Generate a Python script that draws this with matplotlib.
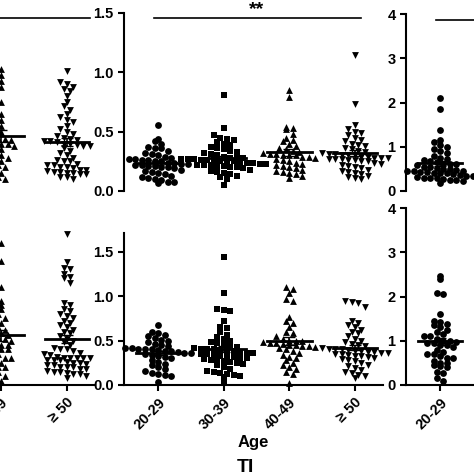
import numpy as np
import matplotlib.pyplot as plt

plt.rcParams['font.family'] = ['Liberation Sans', 'DejaVu Sans']
plt.rcParams['font.weight'] = 'bold'

ages = ['20-29', '30-39', '40-49', '\u2265 50']
markers = ['o', 's', '^', 'v']

# top row (panel 2 is fully visible)
top_left_40 = [1.03,0.98,0.93,0.88,0.75,0.65,0.60,0.55,0.50,0.47,0.45,0.43,0.41,0.40,0.38,0.35,0.32,0.30,0.28,0.25,0.22,0.20,0.15,0.12,0.10,0.42,0.40,0.44]
top_left_50 = [1.01,0.92,0.90,0.88,0.86,0.84,0.80,0.75,0.72,0.68,0.65,0.62,0.60,0.58,0.55,0.52,0.50,0.48,0.46,0.45,0.44,0.43,0.42,0.41,0.40,0.39,0.38,0.36,0.34,0.32,0.30,0.28,0.26,0.25,0.23,0.22,0.20,0.19,0.18,0.17,0.16,0.15,0.14,0.12,0.10,0.42,0.40,0.38,0.15,0.18,0.20,0.12,0.22,0.25,0.16,0.14]
top_20 = [0.56,0.44,0.42,0.40,0.37,0.36,0.36,0.34,0.32,0.31,0.30,0.29,0.28,0.27,0.27,0.26,0.25,0.25,0.24,0.24,0.23,0.22,0.22,0.21,0.20,0.20,0.19,0.18,0.17,0.16,0.15,0.14,0.13,0.12,0.11,0.10,0.09,0.08,0.08,0.07,0.23,0.26,0.21]
top_30 = [0.81,0.53,0.47,0.45,0.44,0.43,0.41,0.40,0.39,0.37,0.36,0.35,0.34,0.33,0.32,0.31,0.30,0.29,0.28,0.28,0.27,0.27,0.26,0.26,0.25,0.25,0.24,0.24,0.23,0.23,0.22,0.22,0.21,0.21,0.20,0.20,0.19,0.18,0.17,0.16,0.15,0.14,0.13,0.12,0.10,0.05,0.26,0.25,0.27,0.24,0.22,0.28]
top_40 = [0.85,0.79,0.54,0.53,0.52,0.48,0.45,0.43,0.42,0.40,0.38,0.36,0.35,0.34,0.33,0.32,0.31,0.30,0.30,0.29,0.28,0.27,0.26,0.25,0.24,0.23,0.22,0.21,0.20,0.19,0.18,0.17,0.16,0.15,0.14,0.13,0.11,0.30,0.29,0.31]
top_50 = [1.15,0.73,0.56,0.52,0.50,0.49,0.47,0.45,0.43,0.42,0.40,0.39,0.38,0.36,0.35,0.34,0.33,0.32,0.31,0.30,0.30,0.29,0.28,0.28,0.27,0.27,0.26,0.25,0.24,0.23,0.22,0.21,0.20,0.19,0.18,0.17,0.16,0.15,0.14,0.13,0.12,0.11,0.10,0.29,0.28,0.27,0.30,0.26,0.25,0.31]
top_right_20 = [2.1,1.85,1.38,1.15,1.1,1.05,1.0,0.95,0.9,0.85,0.8,0.75,0.72,0.7,0.68,0.65,0.62,0.6,0.58,0.55,0.52,0.5,0.48,0.46,0.44,0.42,0.4,0.38,0.36,0.34,0.32,0.3,0.28,0.25,0.22,0.18,0.55,0.5,0.45,0.6,0.4,0.3,0.35,0.4,0.25,0.3,0.45]

# bottom row
bot_left_40 = [1.6,1.4,1.1,0.95,0.9,0.85,0.8,0.75,0.7,0.65,0.62,0.6,0.58,0.56,0.55,0.54,0.52,0.5,0.48,0.45,0.42,0.4,0.35,0.3,0.25,0.2,0.15,0.1,0.05,0.3,0.35,0.4,0.45,0.2]
bot_left_50 = [1.7,1.38,1.32,1.31,1.25,1.22,1.20,1.15,0.92,0.90,0.85,0.83,0.80,0.78,0.75,0.72,0.70,0.68,0.65,0.62,0.60,0.58,0.55,0.52,0.50,0.48,0.45,0.42,0.40,0.38,0.36,0.34,0.32,0.30,0.28,0.26,0.24,0.22,0.20,0.18,0.16,0.14,0.12,0.10,0.08,0.30,0.28,0.25,0.20,0.15,0.25,0.30,0.35,0.40,0.18,0.22,0.12,0.30,0.28,0.20,0.15,0.30]
bot_20 = [0.67,0.60,0.58,0.56,0.55,0.53,0.51,0.50,0.48,0.46,0.45,0.44,0.42,0.41,0.40,0.39,0.38,0.37,0.36,0.35,0.34,0.33,0.32,0.30,0.28,0.26,0.24,0.22,0.20,0.18,0.16,0.14,0.12,0.11,0.10,0.03,0.40,0.38,0.36,0.42]
bot_30 = [1.44,1.03,0.85,0.84,0.83,0.72,0.65,0.64,0.60,0.56,0.54,0.52,0.50,0.48,0.47,0.45,0.44,0.43,0.42,0.41,0.40,0.39,0.38,0.37,0.36,0.35,0.34,0.33,0.32,0.31,0.30,0.29,0.28,0.27,0.26,0.25,0.24,0.22,0.20,0.18,0.16,0.15,0.13,0.12,0.11,0.10,0.09,0.03,0.40,0.38,0.36,0.35,0.30,0.28]
bot_40 = [1.10,1.08,1.04,0.97,0.95,0.76,0.72,0.70,0.65,0.60,0.58,0.55,0.52,0.50,0.49,0.48,0.47,0.46,0.45,0.44,0.43,0.42,0.40,0.38,0.36,0.34,0.32,0.30,0.28,0.25,0.22,0.20,0.18,0.15,0.12,0.02,0.45,0.47,0.44,0.50]
bot_50 = [0.94,0.93,0.92,0.88,0.72,0.70,0.68,0.65,0.62,0.60,0.58,0.55,0.52,0.50,0.48,0.46,0.45,0.44,0.42,0.41,0.40,0.39,0.38,0.37,0.36,0.35,0.34,0.33,0.32,0.30,0.29,0.28,0.27,0.25,0.23,0.21,0.19,0.17,0.15,0.13,0.11,0.10,0.08,0.38,0.36,0.40,0.35,0.33,0.37]
bot_right_20 = [2.47,2.4,2.08,2.05,1.6,1.45,1.42,1.38,1.35,1.3,1.25,1.2,1.15,1.1,1.05,1.0,0.98,0.95,0.9,0.85,0.8,0.75,0.7,0.65,0.6,0.55,0.5,0.45,0.42,0.4,0.3,0.28,0.15,0.1,1.0,0.95,0.9,1.1,0.6,0.5,0.7]


def swarm(ax, i, vals, marker, binh):
    vals = np.sort(np.array(vals))[::-1]
    bins = {}
    for v in vals:
        b = int(round(v / binh))
        bins.setdefault(b, []).append(v)
    for b, vs in bins.items():
        n = len(vs)
        offs = (np.arange(n) - (n - 1) / 2) * 0.1
        ax.scatter(i + offs, vs, marker=marker, s=24, color='black', linewidths=0, clip_on=False, zorder=3)
    m = np.mean(vals)
    se = np.std(vals, ddof=1) / np.sqrt(len(vals))
    ax.plot([i - 0.34, i + 0.34], [m, m], color='black', lw=2, zorder=4)
    ax.errorbar(i, m, yerr=se, color='black', capsize=4, lw=1.2, zorder=4)


W, H = 474, 474
fig = plt.figure(figsize=(4.74, 4.74), dpi=100)


def make_ax(x0, y0, ytop, width=259):
    return fig.add_axes([x0 / W, (H - y0) / H, width / W, (y0 - ytop) / H])


xl = (-0.52, 3.43)
rows = [
    (191, 13, (0, 1.5), [top_left_40, top_left_50], [top_20, top_30, top_40, top_50], [top_right_20], 0.05, (0, 4), 14, 0.13),
    (385, 233, (0, 1.71), [bot_left_40, bot_left_50], [bot_20, bot_30, bot_40, bot_50], [bot_right_20], 0.065, (0, 4.0), 208, 0.13),
]
for r, (y0, ytop, ylim, left, mid, right, bh, rlim, rtop, rbh) in enumerate(rows):
    axl = make_ax(-164, y0, ytop)
    axm = make_ax(124, y0, ytop)
    axr = make_ax(406, y0, rtop)
    for ax in (axl, axm, axr):
        ax.set_xlim(*xl)
        for s in ('top', 'right'):
            ax.spines[s].set_visible(False)
        ax.spines['left'].set_linewidth(1.5)
        ax.spines['bottom'].set_linewidth(1.5)
        ax.tick_params(width=1.5, length=4, labelsize=10.5)
    axl.set_ylim(*ylim)
    axl.set_yticks([])
    axl.spines['left'].set_visible(False)
    axm.set_ylim(*ylim)
    axr.set_ylim(*rlim)
    for k, vals in enumerate(left):
        swarm(axl, 2 + k, vals, markers[2 + k], bh)
    for k, vals in enumerate(mid):
        swarm(axm, k, vals, markers[k], bh)
    swarm(axr, 0, right[0], markers[0], rbh)
    axr.set_yticks([0, 1, 2, 3, 4])
    axm.set_yticks([0, 0.5, 1.0, 1.5])
    axm.set_yticklabels(['0.0', '0.5', '1.0', '1.5'])
    if r == 0:
        for ax in (axl, axm, axr):
            ax.spines['bottom'].set_visible(False)
            ax.set_xticks([])
        axl.plot([-1, 3.35], [1.46, 1.46], color='black', lw=1.2, clip_on=False)
        axm.plot([-0.06, 3.1], [1.46, 1.46], color='black', lw=1.2, clip_on=False)
        axm.text(1.5, 1.46, '**', ha='center', va='bottom', fontsize=14, fontweight='bold')
        axr.plot([-0.06, 3], [3.86, 3.86], color='black', lw=1.2, clip_on=False)
    else:
        for ax in (axl, axm, axr):
            ax.set_xticks(range(4))
            ax.set_xticklabels(ages, rotation=45, ha='right', rotation_mode='anchor')
        axm.set_xlabel('Age', fontsize=12, fontweight='bold', labelpad=2)

fig.text(245 / W, 1 - 467 / H, 'TI', ha='center', va='center', fontsize=14, fontweight='bold')
fig.savefig('out.png', dpi=100)
